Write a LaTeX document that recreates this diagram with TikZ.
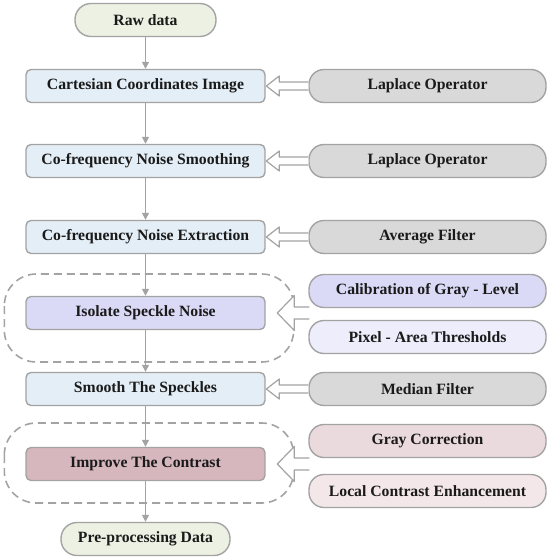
\documentclass[tikz,border=0pt]{standalone}
\usepackage{fontspec}
\setmainfont{Liberation Serif}
\usetikzlibrary{calc,arrows.meta}
\definecolor{edge}{HTML}{A3A3A3}
\definecolor{ink}{HTML}{1A1A1A}
\definecolor{stepblue}{HTML}{E4EEF6}
\definecolor{datagreen}{HTML}{EDF1E3}
\definecolor{toolgray}{HTML}{D9D9D9}
\definecolor{lilac}{HTML}{DADAF7}
\definecolor{lilacpale}{HTML}{EDEDFB}
\definecolor{rose}{HTML}{D6B7BE}
\definecolor{rosemid}{HTML}{EBDADD}
\definecolor{rosepale}{HTML}{F4E7E9}
\tikzset{
  every node/.style={font=\fontsize{15.7}{18}\selectfont\bfseries, text=ink, inner sep=0pt},
  stepbox/.style={draw=edge, line width=1.4pt, rounded corners=5pt, minimum width=239pt, minimum height=33pt},
  toolbox/.style={draw=edge, line width=1.4pt, rounded corners=15pt, minimum width=237pt, minimum height=33pt},
  databox/.style={draw=edge, fill=datagreen, line width=1.4pt, rounded corners=16pt, minimum height=33pt},
  flow/.style={draw=edge, line width=1.4pt, -{Triangle[width=7pt,length=7pt]}},
  hollow/.style={draw=edge, fill=white, line width=1.2pt},
  group/.style={draw=edge, line width=1.6pt, dash pattern=on 8pt off 5pt, rounded corners=32pt}
}

\begin{document}
\begin{tikzpicture}[x=1pt, y=-1pt, line join=round]
\useasboundingbox (0,0) rectangle (550,559);

% ---------------- main column ----------------
\node[databox, minimum width=141pt] (raw) at (145.5,20) {Raw data};
\node[stepbox, fill=stepblue] (cart) at (145.5,86)  {Cartesian Coordinates Image};
\node[stepbox, fill=stepblue] (nsm)  at (145.5,161) {Co-frequency Noise Smoothing};
\node[stepbox, fill=stepblue] (nex)  at (145.5,237) {Co-frequency Noise Extraction};
\node[stepbox, fill=lilac]    (iso)  at (145.5,313) {Isolate Speckle Noise};
\node[stepbox, fill=stepblue] (spk)  at (145.5,389) {Smooth The Speckles};
\node[stepbox, fill=rose]     (con)  at (145.5,464) {Improve The Contrast};
\node[databox, minimum width=169pt] (pre) at (145.5,539) {Pre-processing Data};

% ---------------- methods column ----------------
\node[toolbox, fill=toolgray]  (lap1) at (427.5,86)  {Laplace Operator};
\node[toolbox, fill=toolgray]  (lap2) at (427.5,161) {Laplace Operator};
\node[toolbox, fill=toolgray]  (avg)  at (427.5,237) {Average Filter};
\node[toolbox, fill=lilac]     (cal)  at (427.5,291) {Calibration of Gray - Level};
\node[toolbox, fill=lilacpale] (pix)  at (427.5,337) {Pixel - Area Thresholds};
\node[toolbox, fill=toolgray]  (med)  at (427.5,389) {Median Filter};
\node[toolbox, fill=rosemid]   (gcor) at (427.5,441) {Gray Correction};
\node[toolbox, fill=rosepale]  (lce)  at (427.5,491) {Local Contrast Enhancement};

% ---------------- dashed groups ----------------
\draw[group] ($(iso.west)+(-21,-39)$) rectangle ($(iso.east)+(28,49)$);
\draw[group] ($(con.west)+(-21,-41)$) rectangle ($(con.east)+(28,39)$);

% ---------------- flow arrows ----------------
\foreach \a/\b in {raw/cart,cart/nsm,nsm/nex,nex/iso,iso/spk,spk/con,con/pre}
  \draw[flow] (\a) -- (\b);

% ---------------- single method arrows ----------------
\foreach \s in {lap1,lap2,avg,med}
  \draw[hollow] (\s.west) ++(0,-4) -- ++(-29,0) -- ++(0,-6) -- ++(-13,10) -- ++(13,10) -- ++(0,-6) -- ++(29,0);

% ---------------- grouped method arrows ----------------
\foreach \s/\m in {cal/iso,gcor/con}
  \draw[hollow] ($(\s.west |- \m.east)+(1,-6)$) -- ++(-15,0) -- ++(0,-11.5) -- ++(-17,17.5) -- ++(17,17.5) -- ++(0,-11.5) -- ++(15,0);

\end{tikzpicture}
\end{document}
